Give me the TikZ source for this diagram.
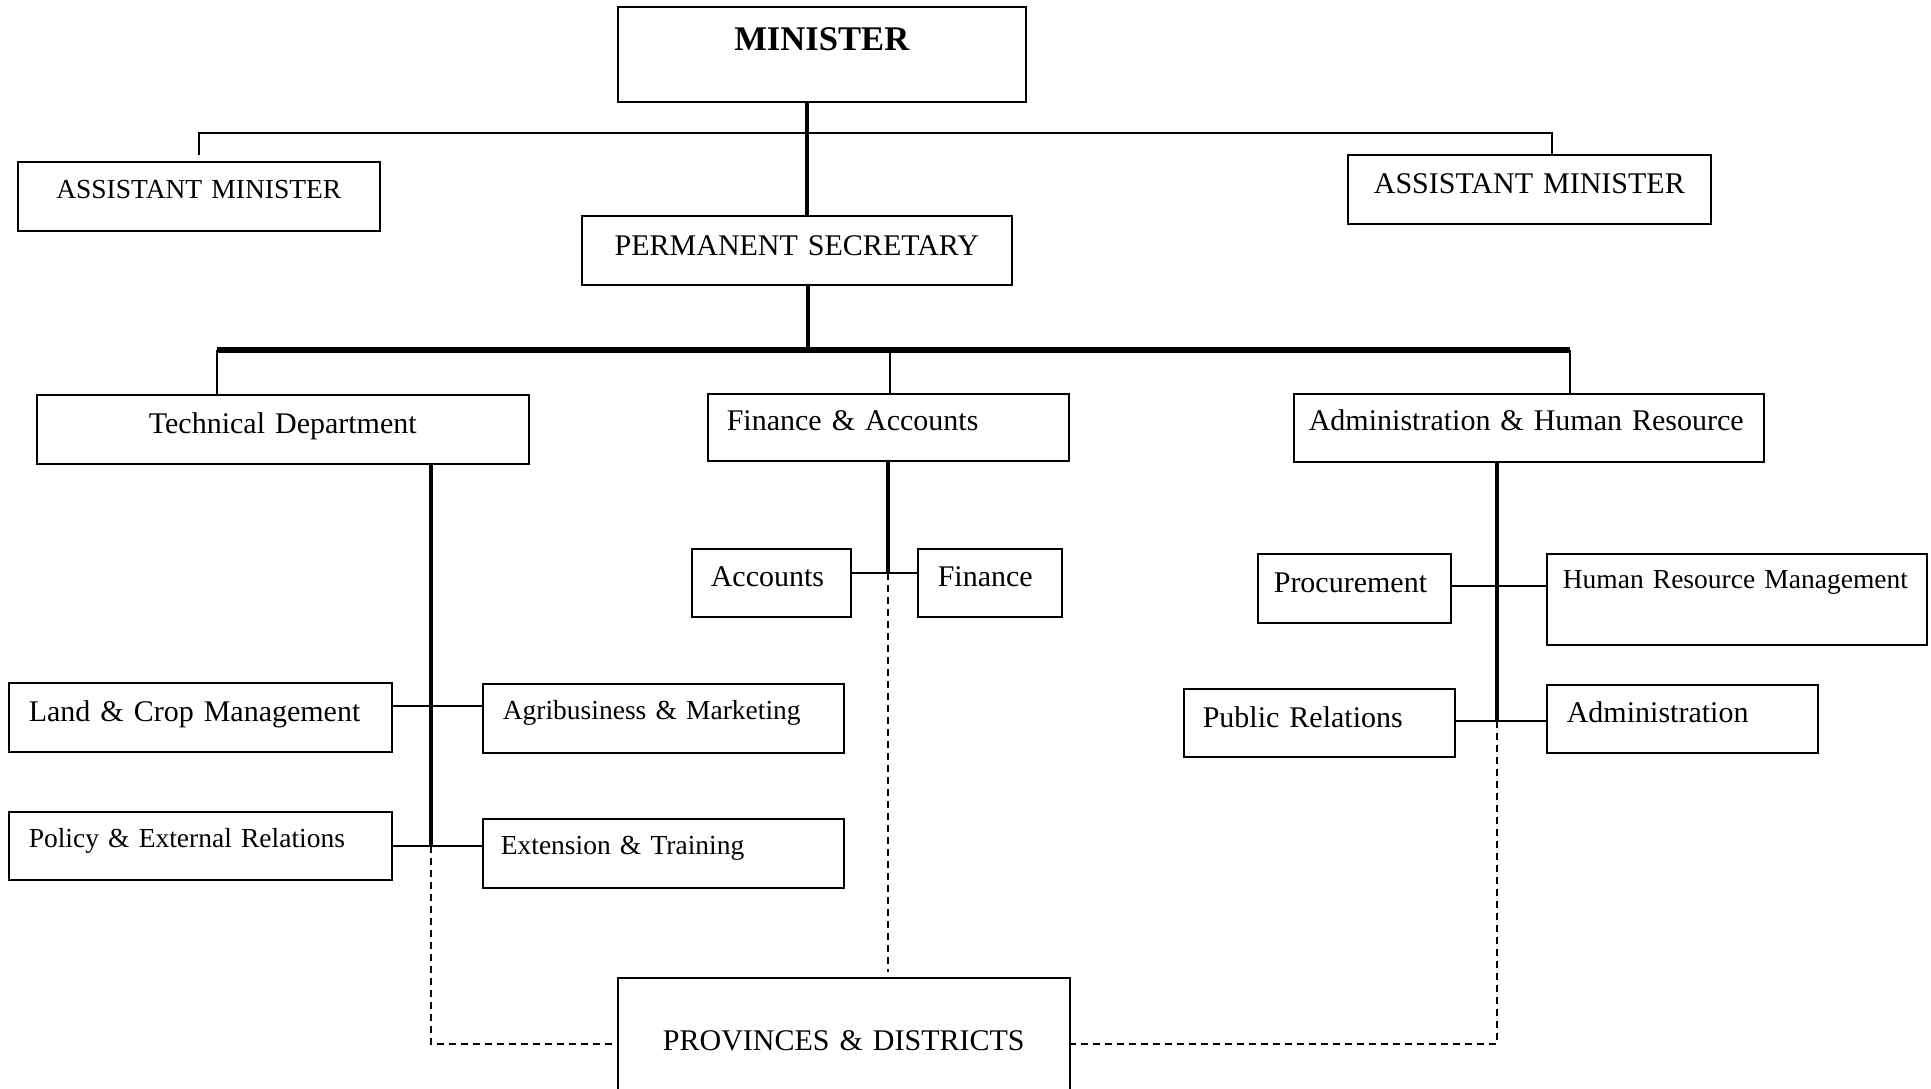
\documentclass[tikz,border=0pt]{standalone}
\usepackage{fontspec}
\setmainfont{Liberation Serif}

\begin{document}
\begin{tikzpicture}[x=0.5pt, y=-0.5pt,
  unit/.style={draw, line width=0.8pt, anchor=north west, inner xsep=0pt, inner ysep=0pt,
    align=center, font=\fontsize{15}{18}\selectfont},
  lunit/.style={unit, align=left},
  smalltext/.style={font=\fontsize{13.75}{16}\selectfont},
  link/.style={line width=0.7pt},
  stem/.style={line width=2.2pt},
  trunk/.style={line width=3pt},
  field/.style={line width=0.6pt, dash pattern=on 3.5pt off 2.5pt}]

\useasboundingbox (0,0) rectangle (1931,1088);

\node[unit, text width=204pt, text height=22pt, text depth=25.5pt,
  font=\fontsize{17.3}{20}\selectfont\bfseries] (min) at (617,6) {MINISTER};
\node[unit, smalltext, text width=181pt, text height=18.5pt, text depth=16pt] (am1) at (17,161) {ASSISTANT MINISTER};
\node[unit, text width=181.5pt, text height=19.5pt, text depth=15pt] (am2) at (1347,154) {ASSISTANT MINISTER};
\node[unit, text width=215pt, text height=20pt, text depth=14.5pt] (ps) at (581,215) {PERMANENT SECRETARY};

\node[unit, text width=246pt, text height=19.5pt, text depth=15pt] (td) at (36,394) {Technical Department};
\node[lunit, inner xsep=9.5pt, text width=161.5pt, text height=18.5pt, text depth=15pt] (fa) at (707,393) {Finance \& Accounts};
\node[lunit, inner xsep=7.5pt, text width=220pt, text height=18.5pt, text depth=15.5pt] (ahr) at (1293,393) {Administration \& Human Resource};

\node[lunit, inner xsep=9.5pt, text width=60.5pt, text height=19pt, text depth=15pt] (acc) at (691,548) {Accounts};
\node[lunit, inner xsep=10pt, text width=52pt, text height=19pt, text depth=15pt] (fin) at (917,548) {Finance};

\node[lunit, inner xsep=10pt, text width=171.5pt, text height=19.5pt, text depth=15pt] (land) at (8,682) {Land \& Crop Management};
\node[lunit, smalltext, inner xsep=10pt, text width=160.5pt, text height=18pt, text depth=16.5pt] (agri) at (482,683) {Agribusiness \& Marketing};
\node[lunit, smalltext, inner xsep=10pt, text width=171.5pt, text height=18pt, text depth=16pt] (pol) at (8,811) {Policy \& External Relations};
\node[lunit, smalltext, inner xsep=9pt, text width=162.5pt, text height=18pt, text depth=16.5pt] (ext) at (482,818) {Extension \& Training};

\node[lunit, inner xsep=8pt, text width=80.5pt, text height=19.5pt, text depth=15pt] (proc) at (1257,553) {Procurement};
\node[lunit, smalltext, inner xsep=8pt, text width=174pt, text height=17.5pt, text depth=28pt] (hrm) at (1546,553) {Human Resource Management};
\node[lunit, inner xsep=9.5pt, text width=116.5pt, text height=19.5pt, text depth=14.5pt] (pr) at (1183,688) {Public Relations};
\node[lunit, inner xsep=10pt, text width=115.5pt, text height=19pt, text depth=15pt] (adm) at (1546,684) {Administration};

\node[unit, text width=226pt, text height=36.5pt, text depth=20pt] (pd) at (617,977) {PROVINCES \& DISTRICTS};

% junctions
\coordinate (top) at (807,133);
\coordinate (amr) at (1552,154);
\coordinate (bar) at (808,350);
\coordinate (barL) at (217,350);
\coordinate (barM) at (890,350);
\coordinate (barR) at (1570,350);
\coordinate (tdj) at (431,706);
\coordinate (tdv) at (431,846);
\coordinate (fav) at (888,573);
\coordinate (ahj) at (1497,586);
\coordinate (ahv) at (1497,721);
\coordinate (dl) at (431,1044);
\coordinate (dr) at (1497,1044);

\draw[stem] (min.south -| top) -- (ps.north -| top);
\draw[link] ([yshift=3pt]am1.north) -- (am1.north |- top) -- (amr |- top) -- (amr);
\draw[stem] (ps.south -| bar) -- (bar);
\draw[trunk] (barL) -- (barR);
\draw[link] (barL) -- (barL |- td.north);
\draw[link] (barM) -- (barM |- fa.north);
\draw[link] (barR) -- (barR |- ahr.north);

\draw[stem] (td.south -| tdv) -- (tdv);
\draw[link] (land.east |- tdj) -- (agri.west |- tdj);
\draw[link] (pol.east |- tdv) -- (ext.west |- tdv);

\draw[stem] (fa.south -| fav) -- (fav);
\draw[link] (acc.east |- fav) -- (fin.west |- fav);

\draw[stem] (ahr.south -| ahv) -- (ahv);
\draw[link] (proc.east |- ahj) -- (hrm.west |- ahj);
\draw[link] (pr.east |- ahv) -- (adm.west |- ahv);

% dashed links to the provinces
\draw[field] (fav) -- ([yshift=2.5pt]pd.north -| fav);
\draw[field] (tdv) -- (dl) -- (dl -| pd.west);
\draw[field] (ahv) -- (dr) -- (dr -| pd.east);

\end{tikzpicture}
\end{document}
